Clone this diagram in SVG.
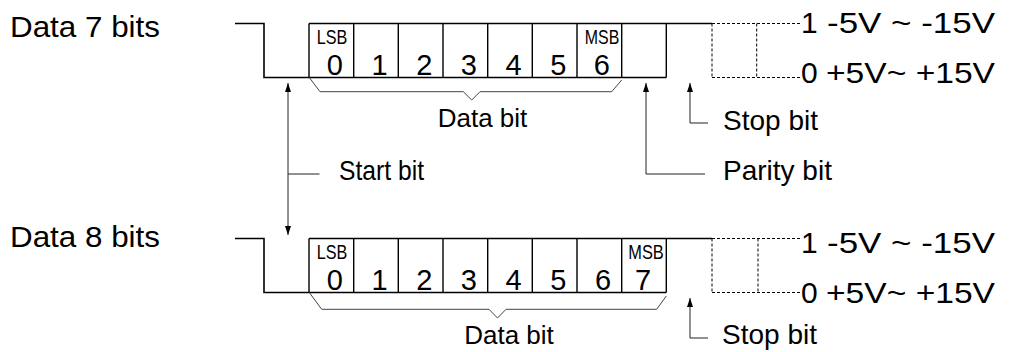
<svg xmlns="http://www.w3.org/2000/svg" width="1016" height="352" viewBox="0 0 1016 352">
  <style>
    .t { font-family: "Liberation Sans", Arial, sans-serif; fill: #000; }
    .lbl { font-size: 30px; }
    .big { font-size: 30px; }
    .mid { font-size: 28px; }
    .db { font-size: 26px; text-anchor: middle; }
    .dig { font-size: 29px; text-anchor: middle; }
    .sm { font-size: 21px; text-anchor: middle; }
    .wave { fill: none; stroke: #000; stroke-width: 1.6; }
    .cell { fill: none; stroke: #000; stroke-width: 1.4; }
    .dash { fill: none; stroke: #000; stroke-width: 1; stroke-dasharray: 3 2; }
    .thin { fill: none; stroke: #222; stroke-width: 1; }
    .brk { fill: none; stroke: #444; stroke-width: 1; }
  </style>
  <defs>
    <marker id="ah" markerUnits="userSpaceOnUse" markerWidth="9" markerHeight="6" refX="9" refY="3" orient="auto-start-reverse">
      <path d="M0,0 L9,3 L0,6 z" fill="#000"/>
    </marker>
  </defs>

  <!-- Row 1: 7 data bits -->
  <g id="row1-label">
    <text class="t lbl" x="10" y="36.7" textLength="150" lengthAdjust="spacingAndGlyphs">Data 7 bits</text>
  </g>
  <g id="row1-frame">
    <path class="wave" d="M235,23.5 H264 V77.5 H666.3 M309,23.5 H712"/>
    <path class="cell" d="M309,23.5 V77.5 M353.7,23.5 V77.5 M398.3,23.5 V77.5 M443,23.5 V77.5 M487.7,23.5 V77.5 M532.3,23.5 V77.5 M577,23.5 V77.5 M621.7,23.5 V77.5 M666.3,23.5 V77.5"/>
    <path class="dash" d="M712,23.5 H800 M712,77.5 H800 M712,23.5 V77.5 M756.7,23.5 V77.5"/>
    <text class="t sm" x="332" y="43.5" textLength="30.5" lengthAdjust="spacingAndGlyphs">LSB</text>
    <text class="t sm" x="602" y="43.5" textLength="34.5" lengthAdjust="spacingAndGlyphs">MSB</text>
    <text class="t dig" x="334.8" y="75">0</text>
    <text class="t dig" x="379.5" y="75">1</text>
    <text class="t dig" x="424.2" y="75">2</text>
    <text class="t dig" x="468.9" y="75">3</text>
    <text class="t dig" x="513.5" y="75">4</text>
    <text class="t dig" x="558.3" y="75">5</text>
    <text class="t dig" x="601.7" y="75">6</text>
  </g>
  <g id="row1-levels">
    <text class="t big" x="801" y="32.5">1</text>
    <text class="t big" x="827" y="32.5" textLength="168" lengthAdjust="spacingAndGlyphs">-5V ~ -15V</text>
    <text class="t big" x="801" y="82.7">0</text>
    <text class="t big" x="826" y="82.7" textLength="169" lengthAdjust="spacingAndGlyphs">+5V~ +15V</text>
  </g>
  <g id="row1-databit">
    <path class="brk" d="M309.3,77.5 L320,91.7 H463.3 L471.7,100 L480,91.7 H611.7 L621.7,80"/>
    <text class="t db" x="482.5" y="126.7">Data bit</text>
  </g>
  <g id="row1-stop">
    <text class="t mid" x="723" y="130">Stop bit</text>
  </g>
  <g id="parity">
    <text class="t mid" x="723" y="180">Parity bit</text>
  </g>
  <g id="start">
    <text class="t mid" x="339" y="180" textLength="85" lengthAdjust="spacingAndGlyphs">Start bit</text>
  </g>

  <!-- Row 2: 8 data bits -->
  <g id="row2-label">
    <text class="t lbl" x="10" y="246.7" textLength="150" lengthAdjust="spacingAndGlyphs">Data 8 bits</text>
  </g>
  <g id="row2-frame">
    <path class="wave" d="M235,238.5 H264 V292.5 H666.3 M309,238.5 H712"/>
    <path class="cell" d="M309,238.5 V292.5 M353.7,238.5 V292.5 M398.3,238.5 V292.5 M443,238.5 V292.5 M487.7,238.5 V292.5 M532.3,238.5 V292.5 M577,238.5 V292.5 M621.7,238.5 V292.5 M666.3,238.5 V292.5"/>
    <path class="dash" d="M712,238.5 H800 M712,292.5 H800 M712,238.5 V292.5 M758,238.5 V292.5"/>
    <text class="t sm" x="332" y="258.5" textLength="30.5" lengthAdjust="spacingAndGlyphs">LSB</text>
    <text class="t sm" x="646" y="258.5" textLength="35.5" lengthAdjust="spacingAndGlyphs">MSB</text>
    <text class="t dig" x="334.8" y="290">0</text>
    <text class="t dig" x="379.5" y="290">1</text>
    <text class="t dig" x="424.2" y="290">2</text>
    <text class="t dig" x="468.9" y="290">3</text>
    <text class="t dig" x="513.5" y="290">4</text>
    <text class="t dig" x="558.3" y="290">5</text>
    <text class="t dig" x="603" y="290">6</text>
    <text class="t dig" x="643" y="290">7</text>
  </g>
  <g id="row2-levels">
    <text class="t big" x="801" y="253.3">1</text>
    <text class="t big" x="827" y="253.3" textLength="168" lengthAdjust="spacingAndGlyphs">-5V ~ -15V</text>
    <text class="t big" x="801" y="303.3">0</text>
    <text class="t big" x="826" y="303.3" textLength="169" lengthAdjust="spacingAndGlyphs">+5V~ +15V</text>
  </g>
  <g id="row2-databit">
    <path class="brk" d="M309.3,292.5 L321.7,309.3 H489 L497.5,318 L506,309.3 H656.7 L666.3,296"/>
    <text class="t db" x="509" y="343.5">Data bit</text>
  </g>
  <g id="row2-stop">
    <text class="t mid" x="722" y="344">Stop bit</text>
  </g>

  <g id="connectors">
    <line class="thin" x1="288" y1="83" x2="288" y2="235" marker-start="url(#ah)" marker-end="url(#ah)"/>
    <line class="thin" x1="288" y1="174" x2="319.5" y2="174"/>
    <path class="thin" d="M705,174 H646 V83" marker-end="url(#ah)"/>
    <path class="thin" d="M708,123 H690 V83" marker-end="url(#ah)"/>
    <path class="thin" d="M708,338 H690 V298" marker-end="url(#ah)"/>
  </g>
</svg>
